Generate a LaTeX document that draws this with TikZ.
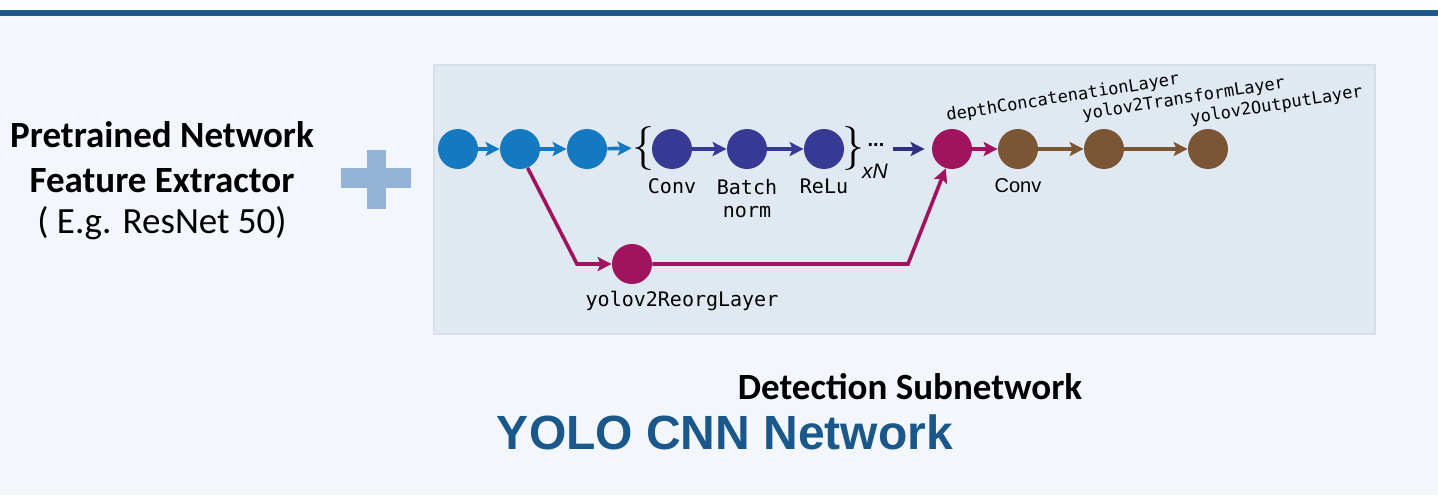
\documentclass[tikz,border=0pt]{standalone}
\usepackage{fontspec}
\usepackage{xcolor}
\usepackage{tikz}
\usetikzlibrary{positioning,arrows.meta,calc}
\newfontfamily\calibrif{Carlito}
\newfontfamily\arialf{Liberation Sans}
\newfontfamily\monof{DejaVu Sans Mono}
\definecolor{barblue}{RGB}{28,88,138}
\definecolor{pagebg}{RGB}{243,246,251}
\definecolor{panelbg}{RGB}{224,233,242}
\definecolor{panelrim}{RGB}{214,222,234}
\definecolor{plusblue}{RGB}{149,179,215}
\definecolor{inblue}{RGB}{20,121,193}
\definecolor{convpurple}{RGB}{55,58,148}
\definecolor{reorgmag}{RGB}{160,19,95}
\definecolor{headbrown}{RGB}{123,86,52}
\definecolor{titleblue}{RGB}{26,88,140}

\begin{document}
\begin{tikzpicture}[
    x=0.5pt, y=-0.5pt,
    lay/.style={circle, minimum size=20pt, inner sep=0pt},
    arr/.style={-{Stealth[length=7pt,width=7pt,inset=1.5pt]}, line width=1.8pt},
    mono/.style={font=\monof\fontsize{10}{11.5}\selectfont, inner sep=0pt, align=center},
    tilt/.style={font=\monof\fontsize{8.5}{9}\selectfont, inner sep=0pt, anchor=base west, rotate=9},
    side/.style={font=\calibrif\fontsize{18.5}{20}\selectfont, anchor=base},
    brc/.style={font=\rmfamily\fontsize{22}{22}\selectfont, inner sep=0pt}
]
\useasboundingbox (0,0) rectangle (1438,495);
% page
\fill[white] (0,0) rectangle (1438,16);
\fill[pagebg] (0,16) rectangle (1438,495);
\fill[barblue] (0,10) rectangle (1438,16);

% feature extractor text and plus
\node[side] (pre1) at (162,147) {\bfseries Pretrained Network};
\node[side] (pre2) at (162,192) {\bfseries Feature Extractor};
\node[side] (pre3) at (162,233) {( E.g. ResNet 50)};
\fill[plusblue] (341,168) rectangle (411,188);
\fill[plusblue] (367,150) rectangle (386,209);

% detection panel
\draw[panelrim, fill=panelbg, line width=1pt] (434,65) rectangle (1375,334);

% backbone layers
\node[lay, fill=inblue] (n1) at (458,149) {};
\node[lay, fill=inblue] (n2) at (520,149) {};
\node[lay, fill=inblue] (n3) at (587,149) {};
\node[brc] (lbr) at (643,148) {\{};
\node[lay, fill=convpurple] (c1) at (672,149) {};
\node[lay, fill=convpurple] (c2) at (747,149) {};
\node[lay, fill=convpurple] (c3) at (824,149) {};
\node[brc] (rbr) at (853,148) {\}};
\node[font=\arialf\bfseries\fontsize{10}{10}\selectfont, inner sep=0pt] (dots) at (876,145) {...};
\node[font=\arialf\itshape\fontsize{10.5}{10}\selectfont, inner sep=0pt] (rep) at (875,171) {xN};
\node[lay, fill=reorgmag] (cat) at (952,149) {};
\node[lay, fill=headbrown] (h1) at (1018,149) {};
\node[lay, fill=headbrown] (h2) at (1104,149) {};
\node[lay, fill=headbrown] (h3) at (1208,149) {};
\node[lay, fill=reorgmag] (reorg) at (632,264) {};

% labels
\node[mono, below=4.5pt of c1] (l1) {Conv};
\node[mono, below=4.5pt of c2] (l2) {Batch\\norm};
\node[mono, below=4.5pt of c3] (l3) {ReLu};
\node[mono, below=3pt of reorg, xshift=25pt] (l4) {yolov2ReorgLayer};
\node[font=\arialf\fontsize{10}{11}\selectfont, inner sep=0pt, below=4.5pt of h1] (l5) {Conv};
\node[tilt] (t1) at (947,121) {depthConcatenationLayer};
\node[tilt] (t2) at (1083,120) {yolov2TransformLayer};
\node[tilt] (t3) at (1191,124) {yolov2OutputLayer};

% connections
\draw[arr, inblue] (n1) -- (n2);
\draw[arr, inblue] (n2) -- (n3);
\draw[arr, inblue] (n3) -- (lbr);
\draw[arr, convpurple] (c1) -- (c2);
\draw[arr, convpurple] (c2) -- (c3);
\draw[arr, convpurple!85!black, shorten <=4pt, shorten >=3.5pt] (dots.east |- cat) -- (cat);
\draw[arr, reorgmag] (cat) -- (h1);
\draw[arr, headbrown] (h1) -- (h2);
\draw[arr, headbrown] (h2) -- (h3);
\coordinate (k1) at (577,264);
\coordinate (k2) at (908,264);
\draw[arr, reorgmag] (n2.-68) -- (k1) -- (reorg);
\draw[arr, reorgmag] (reorg) -- (k2) -- (cat.-108);

% titles
\node[side] (det) at (910,399) {\bfseries Detection Subnetwork};
\node[font=\arialf\bfseries\fontsize{24}{26}\selectfont, text=titleblue, anchor=base] (yolo) at (725,449) {YOLO CNN Network};
\end{tikzpicture}
\end{document}
